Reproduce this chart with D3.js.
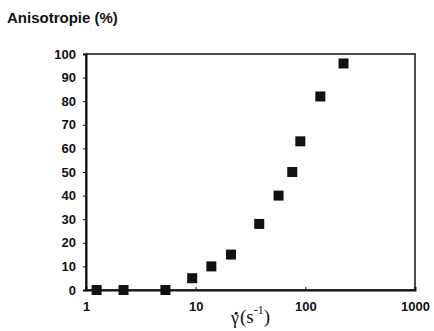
<!DOCTYPE html>
<html lang="fr">
<head>
<meta charset="utf-8">
<script src="https://cdn.jsdelivr.net/npm/d3@7"></script>
<style>
  body { margin: 0; background: #fff; }
  .axis text { font-family: "Liberation Sans", Arial, sans-serif; font-size: 13px; font-weight: bold; fill: #111; }
  .axis path, .axis line { stroke: #111; }
</style>
</head>
<body>
<script>
// shear rate (s-1) and anisotropy (%)
var shearRate = [1.25, 2.2, 5.3, 9.3, 13.9, 21, 38, 57, 76, 90, 137, 223];
var anisotropy = [0, 0, 0, 5, 10, 15, 28, 40, 50, 63, 82, 96];
var yTicks = [0, 10, 20, 30, 40, 50, 60, 70, 80, 90, 100];
var xTicks = [1, 10, 100, 1000];

var w = 434, h = 331;
var mLeft = 86, mRight = 415, mTop = 54, mBottom = 290;

var svg = d3.select("body").append("svg")
  .attr("width", w)
  .attr("height", h);

var x = d3.scaleLog().domain([1, 1000]).range([mLeft, mRight]);
var y = d3.scaleLinear().domain([0, 100]).range([mBottom, mTop]);

// frame
svg.append("rect")
  .attr("x", mLeft).attr("y", mTop)
  .attr("width", mRight - mLeft).attr("height", mBottom - mTop)
  .attr("fill", "none").attr("stroke", "#111").attr("stroke-width", 1.5);

var yAxis = svg.append("g")
  .attr("class", "axis")
  .attr("transform", "translate(" + mLeft + ",0)")
  .call(d3.axisLeft(y).tickValues(yTicks).tickSize(3).tickPadding(7));
yAxis.select(".domain").attr("stroke-width", 2);

var xAxis = svg.append("g")
  .attr("class", "axis")
  .attr("transform", "translate(0," + mBottom + ")")
  .call(d3.axisBottom(x).tickValues(xTicks).tickFormat(d3.format("d")).tickSize(-3).tickPadding(8));
xAxis.select(".domain").attr("stroke-width", 2);
xAxis.selectAll("text").attr("dy", "1em");

svg.selectAll(".pt")
  .data(shearRate)
  .enter().append("rect")
  .attr("class", "pt")
  .attr("x", function(d) { return x(d) - 5; })
  .attr("y", function(d, i) { return y(anisotropy[i]) - 5; })
  .attr("width", 10)
  .attr("height", 10)
  .attr("fill", "#111");

svg.append("text")
  .attr("x", 7).attr("y", 23)
  .attr("font-family", "Liberation Sans, Arial, sans-serif")
  .attr("font-size", 15)
  .attr("font-weight", "bold")
  .attr("fill", "#111")
  .text("Anisotropie (%)");

// x axis title: gamma dot (s^-1)
svg.append("text")
  .attr("x", 235).attr("y", 324)
  .attr("text-anchor", "middle")
  .attr("font-family", "Liberation Serif, Times New Roman, serif")
  .attr("font-size", 18)
  .attr("fill", "#111")
  .text("\u03B3");
svg.append("text")
  .attr("x", 236).attr("y", 327)
  .attr("text-anchor", "middle")
  .attr("font-family", "Liberation Serif, Times New Roman, serif")
  .attr("font-size", 20)
  .attr("font-weight", "bold")
  .attr("fill", "#111")
  .text("\u02D9");
var xt = svg.append("text")
  .attr("x", 240).attr("y", 323)
  .attr("font-family", "Liberation Serif, Times New Roman, serif")
  .attr("font-size", 19)
  .attr("fill", "#111");
xt.append("tspan").text("(s");
xt.append("tspan").attr("font-size", 12).attr("dy", -9).text("-1");
xt.append("tspan").attr("dy", 9).text(")");
</script>
</body>
</html>
